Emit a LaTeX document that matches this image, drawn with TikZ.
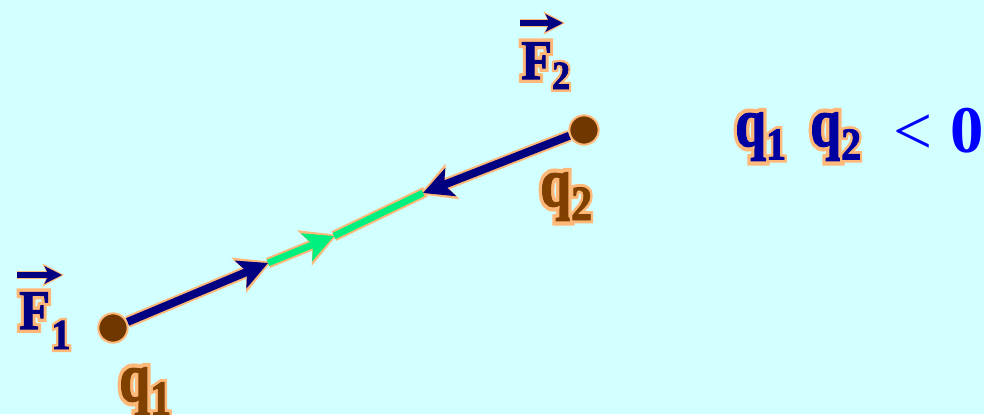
\documentclass[tikz,border=0pt]{standalone}
\usepackage{fontspec}
\setmainfont{Liberation Serif}
\newfontface\halofont{Liberation Serif Bold}[FakeBold=14]
\newfontface\mainbold{Liberation Serif Bold}[FakeBold=2]
\usepackage{graphicx}
\usetikzlibrary{arrows.meta}
\definecolor{bgc}{HTML}{D2FFFF}
\definecolor{peach}{HTML}{FFB878}
\definecolor{navy}{HTML}{000080}
\definecolor{brownq}{HTML}{804000}
\definecolor{dotc}{HTML}{703800}
\definecolor{grn}{HTML}{00F080}
\definecolor{qblue}{HTML}{0000A0}
\definecolor{pblue}{HTML}{0000FF}
\newcommand{\mylab}[4]{\scalebox{#2}[1]{\fontsize{#1}{#1}\selectfont\rlap{\halofont\color{peach}#4}{\mainbold\color{#3}#4}}}
\pgfdeclarelayer{bglayer}
\pgfdeclarelayer{lines}
\pgfsetlayers{bglayer,lines,main}
\begin{document}
\begin{tikzpicture}[x=0.75pt,y=-0.75pt,
  dot/.style={circle, fill=dotc, draw=peach, line width=1.5pt, minimum size=22pt, inner sep=0pt},
  lbl/.style={inner sep=0pt, anchor=base west},
  halo/.style={draw=peach, line width=9pt},
  force/.style={draw=navy, line width=6pt},
  rvec/.style={draw=grn, line width=5pt},
  bigtip/.style={-{Stealth[length=22pt,width=22pt,inset=5pt]}},
  bighalo/.style={-{Stealth[length=26pt,width=28pt,inset=6pt]}, shorten >=-2.5pt},
  smalltip/.style={-{Stealth[length=13pt,width=13pt,inset=3pt]}},
  smallhalo/.style={-{Stealth[length=16pt,width=17pt,inset=4pt]}, shorten >=-1.5pt}
]
\begin{pgfonlayer}{bglayer}
\fill[bgc] (0,0) rectangle (984,414);
\end{pgfonlayer}
\useasboundingbox (0,0) rectangle (984,414);

\coordinate (f1tip) at (268,263);
\coordinate (gtip) at (334,236);
\coordinate (f2tip) at (423,193);

\node[dot] (q1) at (113,328) {};
\node[dot] (q2) at (584,130) {};

\begin{pgfonlayer}{lines}
% halos
\draw[halo, bighalo] (q1) -- (f1tip);
\draw[halo, bighalo] (q2) -- (f2tip);
\draw[halo, line width=8pt, bighalo] (f1tip) -- (gtip);
\draw[halo, line width=8pt, shorten >=-2pt] (gtip) -- (f2tip);
% green r vector
\draw[rvec, bigtip] (f1tip) -- (gtip);
\draw[rvec] (gtip) -- (f2tip);
% forces
\draw[force, bigtip] (q1) -- (f1tip);
\draw[force, bigtip] (q2) -- (f2tip);
% vector arrows over F
\coordinate (a1s) at (17,275);
\coordinate (a1e) at (62,275);
\coordinate (a2s) at (520,23);
\coordinate (a2e) at (563,23);
\draw[halo, line width=6.5pt, smallhalo] (a1s) -- (a1e);
\draw[halo, line width=6.5pt, smallhalo] (a2s) -- (a2e);
\draw[force, line width=3.8pt, smalltip] (a1s) -- (a1e);
\draw[force, line width=3.8pt, smalltip] (a2s) -- (a2e);
\end{pgfonlayer}

% labels
\node[lbl] (F1) at (19,329) {\mylab{42pt}{0.9}{navy}{F}\kern1pt\raisebox{-15pt}{\mylab{32pt}{0.9}{navy}{1}}};
\node[lbl] (F2) at (521,79) {\mylab{42pt}{0.9}{navy}{F}\raisebox{-7.5pt}{\mylab{30pt}{0.9}{navy}{2}}};
\node[lbl] (lq1) at (119,401) {\mylab{52pt}{0.8}{brownq}{q}\raisebox{-10.5pt}{\mylab{37pt}{0.85}{brownq}{1}}};
\node[lbl] (lq2) at (540,206) {\mylab{52pt}{0.8}{brownq}{q}\raisebox{-10.5pt}{\mylab{37pt}{0.85}{brownq}{2}}};
\node[lbl] (cq1) at (735,146) {\mylab{52pt}{0.8}{qblue}{q}\raisebox{-10pt}{\mylab{34pt}{0.88}{qblue}{1}}};
\node[lbl] (cq2) at (810,146) {\mylab{52pt}{0.8}{qblue}{q}\raisebox{-10pt}{\mylab{34pt}{0.88}{qblue}{2}}};
\node[lbl] (lt) at (893,154) {\fontsize{52pt}{52pt}\selectfont\color{pblue}<};
\node[lbl] (zero) at (950,152) {\fontsize{50pt}{50pt}\selectfont\bfseries\color{pblue}0};
\end{tikzpicture}
\end{document}
